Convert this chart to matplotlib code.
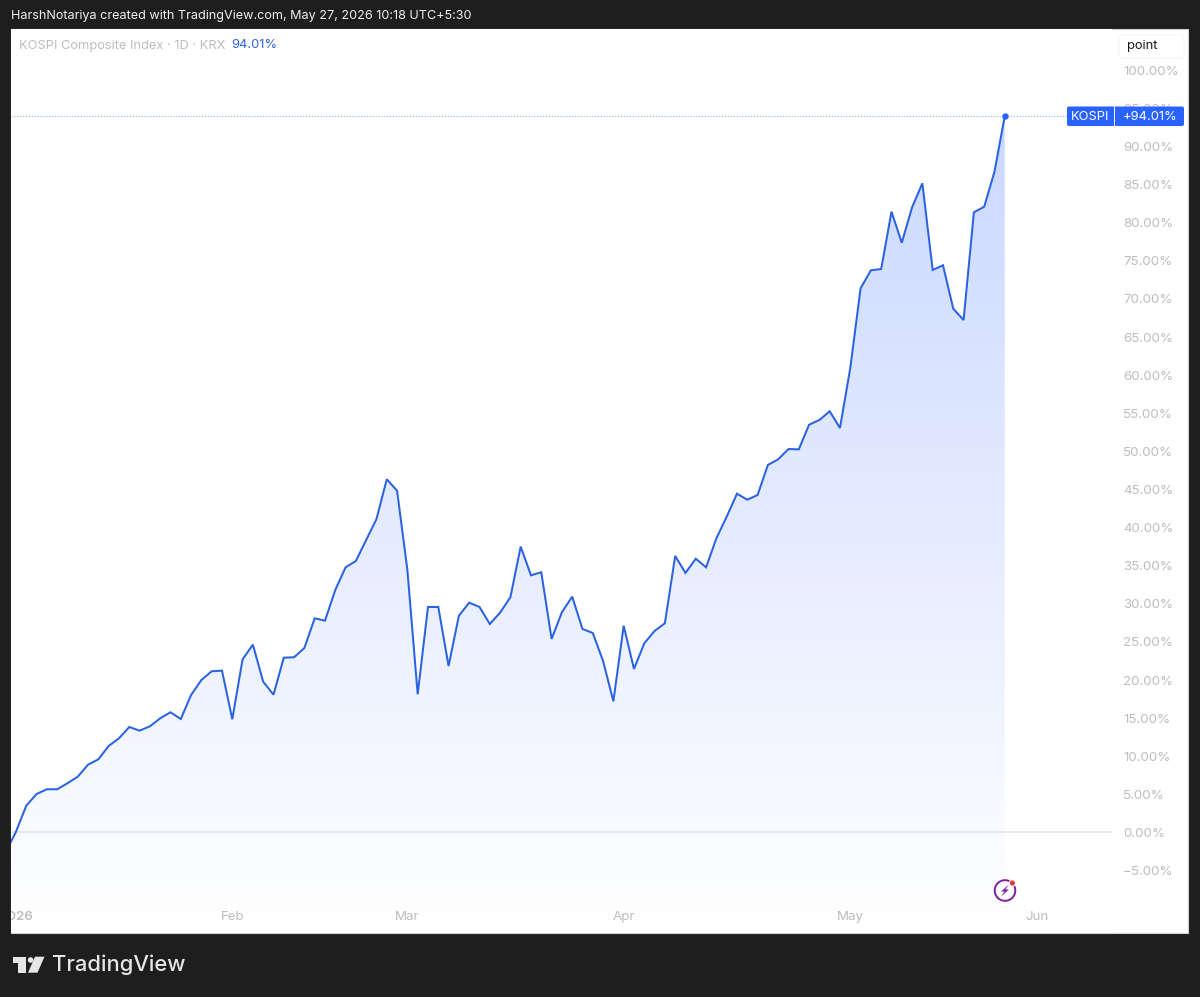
import numpy as np
import matplotlib
matplotlib.use("Agg")
import matplotlib.pyplot as plt
from matplotlib.patches import Rectangle, FancyBboxPatch, Circle, Polygon
from matplotlib.colors import LinearSegmentedColormap

plt.rcParams['font.family'] = ['Inter', 'DejaVu Sans']

# ---- data ----
kospi_pct = [-2.6, 0.10, 3.52, 5.05, 5.67, 5.67, 6.46, 7.32, 8.90, 9.60, 11.35, 12.36, 13.84, 13.36,
             13.93, 14.98, 15.77, 14.89, 18.04, 20.01, 21.15, 21.23, 14.85, 22.72, 24.64, 19.78,
             18.08, 22.93, 22.99, 24.21, 28.10, 27.79, 31.82, 34.79, 35.62, 38.38, 41.13, 46.34,
             44.84, 34.44, 18.13, 29.59, 29.59, 21.84, 28.44, 30.15, 29.59, 27.35, 28.84, 30.86,
             37.50, 33.74, 34.14, 25.39, 28.89, 30.94, 26.70, 26.17, 22.50, 17.21, 27.13, 21.45,
             24.82, 26.44, 27.45, 36.28, 34.05, 35.92, 34.79, 38.60, 41.43, 44.45, 43.66, 44.28,
             48.22, 48.96, 50.31, 50.27, 53.50, 54.12, 55.26, 53.07, 60.94, 71.40, 73.76, 73.93,
             81.45, 77.38, 82.03, 85.17, 73.80, 74.42, 68.72, 67.24, 81.37, 82.10, 86.70, 94.01]
session = list(range(-1, len(kospi_pct) - 1))
month_ticks = [0, 21, 38, 59, 81, 99.1]
month_labels = ['2026', 'Feb', 'Mar', 'Apr', 'May', 'Jun']
pct_ticks = list(range(-5, 105, 5))
pct_labels = [f"{'−' if v < 0 else ''}{abs(v)}.00%" for v in pct_ticks]

W, H = 1200, 997
BG = '#1e1e1e'
BLUE = '#2962ff'
LINE = '#2a62e0'
GREY = '#bdbdbd'
fig = plt.figure(figsize=(W / 100, H / 100), dpi=100, facecolor=BG)

# main axes: pixels 11..1112 horizontally, 29..933 vertically
L, R, T, B = 11, 1112, 29, 933
ax = fig.add_axes([L / W, 1 - B / H, (R - L) / W, (B - T) / H], facecolor='white', zorder=1)
xlim = (-0.485, 106.41)
ylim = (-13.19, 105.42)

# gradient area
poly = ax.fill_between(session, kospi_pct, ylim[0], color='none', linewidth=0)
cmap = LinearSegmentedColormap.from_list('g', [(41/255, 98/255, 1, 0.0), (41/255, 98/255, 1, 0.25)])
grad = np.linspace(0, 1, 256).reshape(-1, 1)
im = ax.imshow(grad, extent=[xlim[0], session[-1], ylim[0], kospi_pct[-1]], origin='lower',
               aspect='auto', cmap=cmap, vmin=0, vmax=1, zorder=1, interpolation='bilinear')
im.set_clip_path(poly.get_paths()[0], transform=ax.transData)

ax.axhline(0, color='#e0e3eb', lw=1.1, zorder=2)
ax.axhline(kospi_pct[-1], color=BLUE, lw=0.8, ls=(0, (1, 1.6)), alpha=0.5, zorder=2)
ax.plot(session, kospi_pct, color=LINE, lw=1.45, zorder=3, solid_joinstyle='miter')
ax.plot(session[-1], kospi_pct[-1], 'o', color=BLUE, ms=4.6, mew=0, zorder=4)

ax.set_xlim(xlim)
ax.set_ylim(ylim)
for s in ax.spines.values():
    s.set_visible(False)
ax.yaxis.tick_right()
ax.set_yticks(pct_ticks, pct_labels)
ax.set_xticks(month_ticks, month_labels)
ax.tick_params(axis='y', length=0, pad=7.9, labelsize=9.6, labelcolor=GREY)
ax.tick_params(axis='x', length=0, pad=-15.5, labelsize=9.6, labelcolor=GREY)
for lab in ax.get_xticklabels():
    lab.set_clip_box(ax.bbox)
    lab.set_clip_on(True)
ax.get_xticklabels()[0].set_fontweight('semibold')

# overlay in pixel coordinates for the chrome
ov = fig.add_axes([0, 0, 1, 1], zorder=5, facecolor='none')
ov.set_xlim(0, W)
ov.set_ylim(H, 0)
ov.axis('off')

# white strip right of the plot sits behind the axis labels
back = fig.add_axes([0, 0, 1, 1], zorder=0, facecolor='none')
back.set_xlim(0, W)
back.set_ylim(H, 0)
back.axis('off')
back.add_patch(Rectangle((L, T), 1188 - L, B - T, fc='white', ec='#d0d0d0', lw=0.8))

# headers
ov.text(11, 16, 'HarshNotariya created with TradingView.com, May 27, 2026 10:18 UTC+5:30',
        color='#f0f0f0', fontsize=9.1, va='center', ha='left')
ov.text(19, 45.5, 'KOSPI Composite Index · 1D · KRX', color=GREY, fontsize=9.3, va='center', ha='left')
ov.text(231, 45.5, '94.01%', color='#2f62d8', fontsize=9.3, va='center', ha='left')

# "point" scale box
ov.add_patch(FancyBboxPatch((1119, 35), 65, 23, boxstyle='round,pad=0,rounding_size=3',
                            fc='white', ec='#f4f4f4', lw=0.8))
ov.text(1127, 45.5, 'point', color='#1a1a1a', fontsize=9.3, va='center', ha='left')

# last value badge
yc = 116
ov.add_patch(FancyBboxPatch((1067, yc - 9.5), 117, 19.5, boxstyle='round,pad=0,rounding_size=2',
                            fc=BLUE, ec='none'))
ov.plot([1113.5, 1113.5], [yc - 9.5, yc + 10], color='white', lw=0.7)
ov.text(1071, yc + 0.5, 'KOSPI', color='white', fontsize=9.3, va='center', ha='left')
ov.text(1178, yc + 0.5, '+94.01%', color='white', fontsize=9.3, va='center', ha='right')

# lightning icon
PUR = '#7b1fa2'
ov.add_patch(Circle((1005, 890.5), 10.3, fc='white', ec=PUR, lw=1.4))
ov.add_patch(Polygon([(1009, 884.5), (1001, 891.5), (1004.5, 891.5), (1001, 896.5),
                      (1009, 889.5), (1005.5, 889.5)], closed=True, fc=PUR, ec='none'))
ov.add_patch(Circle((1012.4, 883), 3.6, fc='white', ec='none'))
ov.add_patch(Circle((1012.4, 883), 2.6, fc='#e53935', ec='none'))

# TradingView logo
LOGO = '#e6e6e6'
ov.add_patch(Polygon([(12.7, 956.7), (26, 956.7), (26, 972.7), (18.3, 972.7), (18.3, 962.7), (12.7, 962.7)],
                     closed=True, fc=LOGO, ec='none'))
ov.add_patch(Circle((30.6, 960), 2.8, fc=LOGO, ec='none'))
ov.add_patch(Polygon([(35, 956.7), (44.5, 956.7), (37.5, 972.7), (28, 972.7)], closed=True, fc=LOGO, ec='none'))
ov.text(52, 965, 'TradingView', color=LOGO, fontsize=15.8, fontweight='medium', va='center', ha='left')

fig.savefig('out.png', dpi=100, facecolor=BG)
